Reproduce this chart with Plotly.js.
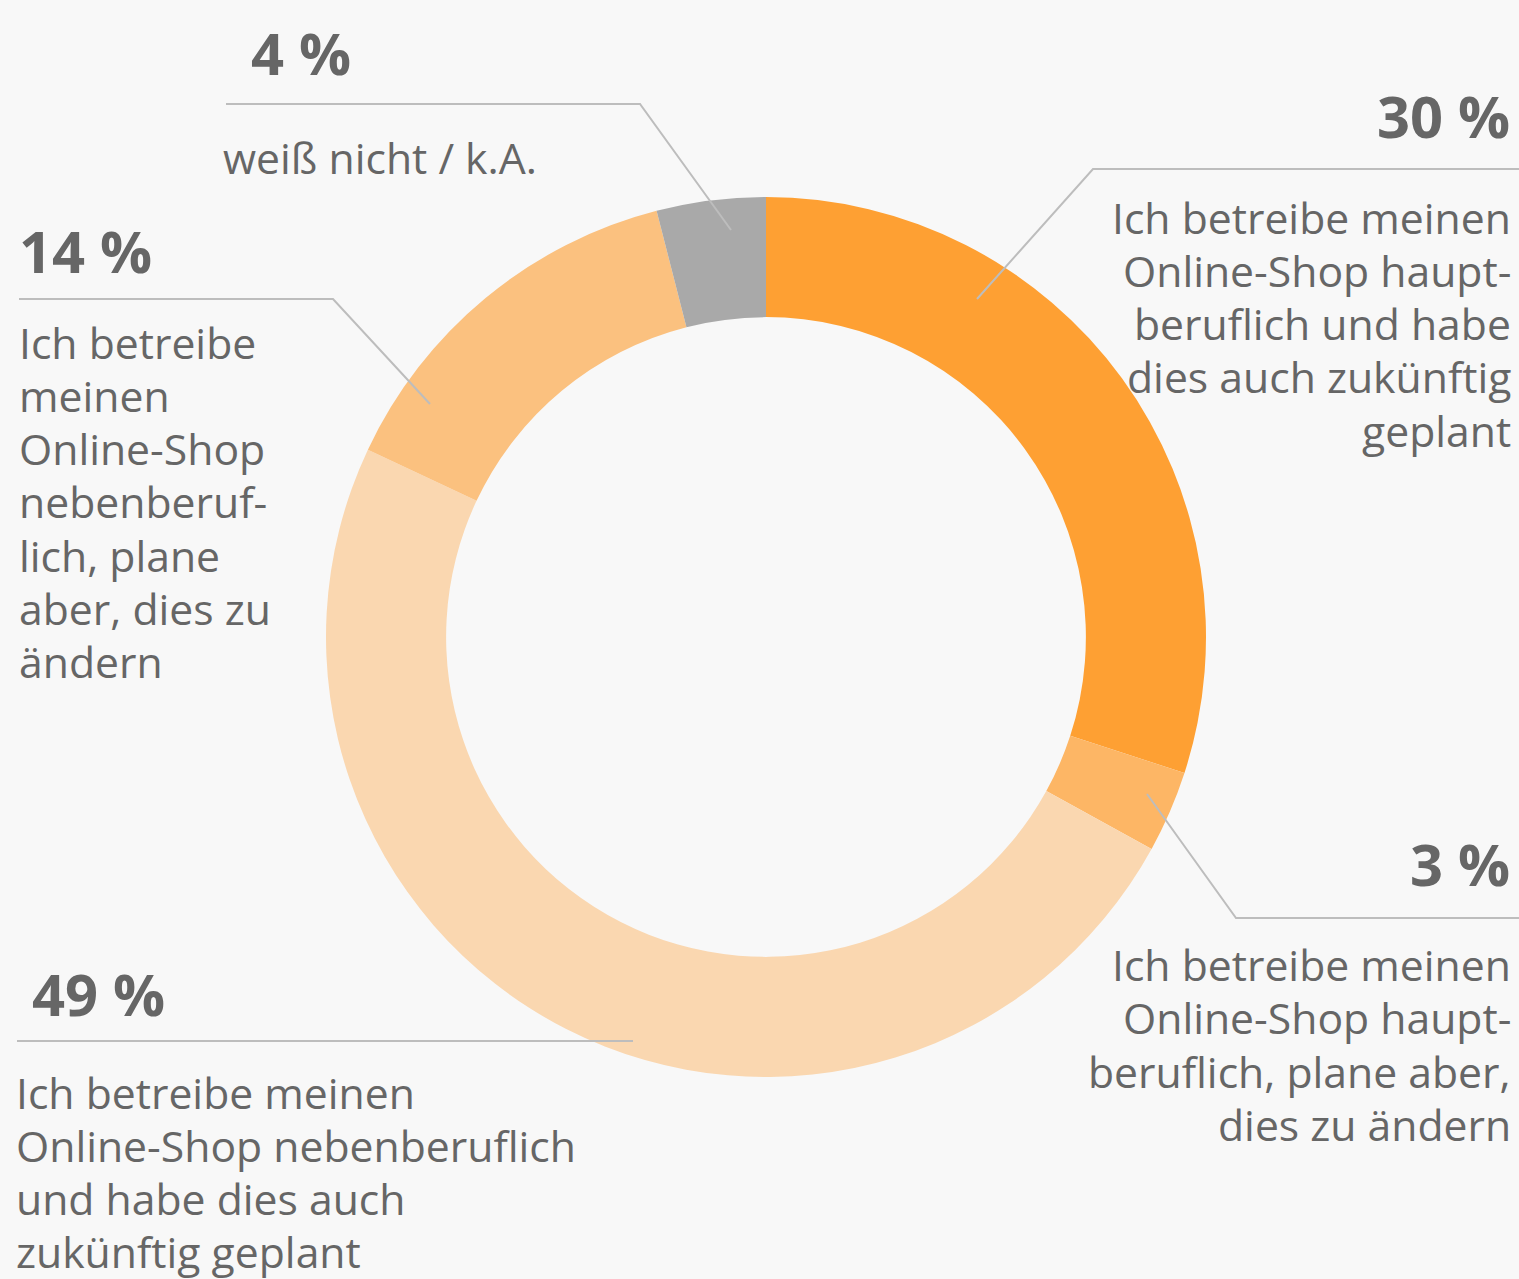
<!DOCTYPE html>
<html>
<head>
<meta charset="utf-8">
<script src="https://cdn.plot.ly/plotly-3.0.1.min.js"></script>
<style>
html,body{margin:0;padding:0;background:#f8f8f8;}
#chart{width:1519px;height:1279px;}
</style>
</head>
<body>
<div id="chart"></div>
<script>
// Data
var categories = [
  "Ich betreibe meinen Online-Shop hauptberuflich und habe dies auch zukünftig geplant",
  "Ich betreibe meinen Online-Shop hauptberuflich, plane aber, dies zu ändern",
  "Ich betreibe meinen Online-Shop nebenberuflich und habe dies auch zukünftig geplant",
  "Ich betreibe meinen Online-Shop nebenberuflich, plane aber, dies zu ändern",
  "weiß nicht / k.A."
];
var values = [30, 3, 49, 14, 4];
var valueLabels = ["30 %", "3 %", "49 %", "14 %", "4 %"];
var wrappedLabels = [
  ["Ich betreibe meinen", "Online-Shop haupt-", "beruflich und habe", "dies auch zukünftig", "geplant"],
  ["Ich betreibe meinen", "Online-Shop haupt-", "beruflich, plane aber,", "dies zu ändern"],
  ["Ich betreibe meinen", "Online-Shop nebenberuflich", "und habe dies auch", "zukünftig geplant"],
  ["Ich betreibe", "meinen", "Online-Shop", "nebenberuf-", "lich, plane", "aber, dies zu", "ändern"],
  ["weiß nicht / k.A."]
];
var colors = ["#fea033", "#fdb665", "#fad7b0", "#fbc17f", "#a9a9a9"];

var W = 1519, H = 1279;
function px(x){ return x / W; }
function py(y){ return 1 - y / H; }

var FONT = "Open Sans, sans-serif";
var TXT = "#666666";
var LINE_H = 53.3;

// Label placement (pixels)
var place = [
  {vx:1512, vy:116, vxa:"right", tx:1513, ty:217, txa:"right",
   path:[[1519,169],[1093,169],[977,299]]},
  {vx:1512, vy:863, vxa:"right", tx:1513, ty:964.5, txa:"right",
   path:[[1519,918],[1236,918],[1147,794]]},
  {vx:30, vy:993, vxa:"left", tx:14, ty:1092, txa:"left",
   path:[[17,1041],[633,1041]]},
  {vx:17, vy:251, vxa:"left", tx:17, ty:342, txa:"left",
   path:[[19,299],[333,299],[430,404]]},
  {vx:249, vy:53, vxa:"left", tx:221, ty:157, txa:"left",
   path:[[226,104],[640,104],[731,230]]}
];

var annotations = [];
var shapes = [];
for (var i = 0; i < values.length; i++) {
  var p = place[i];
  annotations.push({
    xref:"paper", yref:"paper", x:px(p.vx), y:py(p.vy),
    xanchor:p.vxa, yanchor:"middle", showarrow:false,
    text:"<b>" + valueLabels[i] + "</b>",
    font:{family:FONT, size:57.8, color:TXT}
  });
  for (var j = 0; j < wrappedLabels[i].length; j++) {
    annotations.push({
      xref:"paper", yref:"paper", x:px(p.tx), y:py(p.ty + j * LINE_H),
      xanchor:p.txa, yanchor:"middle", showarrow:false,
      text:wrappedLabels[i][j],
      font:{family:FONT, size:42.7, color:TXT}
    });
  }
  var d = "M" + px(p.path[0][0]) + "," + py(p.path[0][1]);
  for (var k = 1; k < p.path.length; k++) d += " L" + px(p.path[k][0]) + "," + py(p.path[k][1]);
  shapes.push({type:"path", xref:"paper", yref:"paper", path:d,
    line:{color:"#bdbdbd", width:2}, layer:"above"});
}

var trace = {
  type:"pie",
  labels:categories,
  values:values,
  sort:false,
  direction:"clockwise",
  rotation:0,
  hole:0.727,
  marker:{colors:colors, line:{width:0}},
  textinfo:"none",
  hoverinfo:"label+percent",
  domain:{x:[px(766-440), px(766+440)], y:[py(637+440), py(637-440)]},
  showlegend:false
};

var layout = {
  width:W, height:H,
  margin:{l:0, r:0, t:0, b:0},
  paper_bgcolor:"#f8f8f8",
  plot_bgcolor:"#f8f8f8",
  showlegend:false,
  annotations:annotations,
  shapes:shapes
};

Plotly.newPlot("chart", [trace], layout, {displayModeBar:false, staticPlot:true});
</script>
</body>
</html>
